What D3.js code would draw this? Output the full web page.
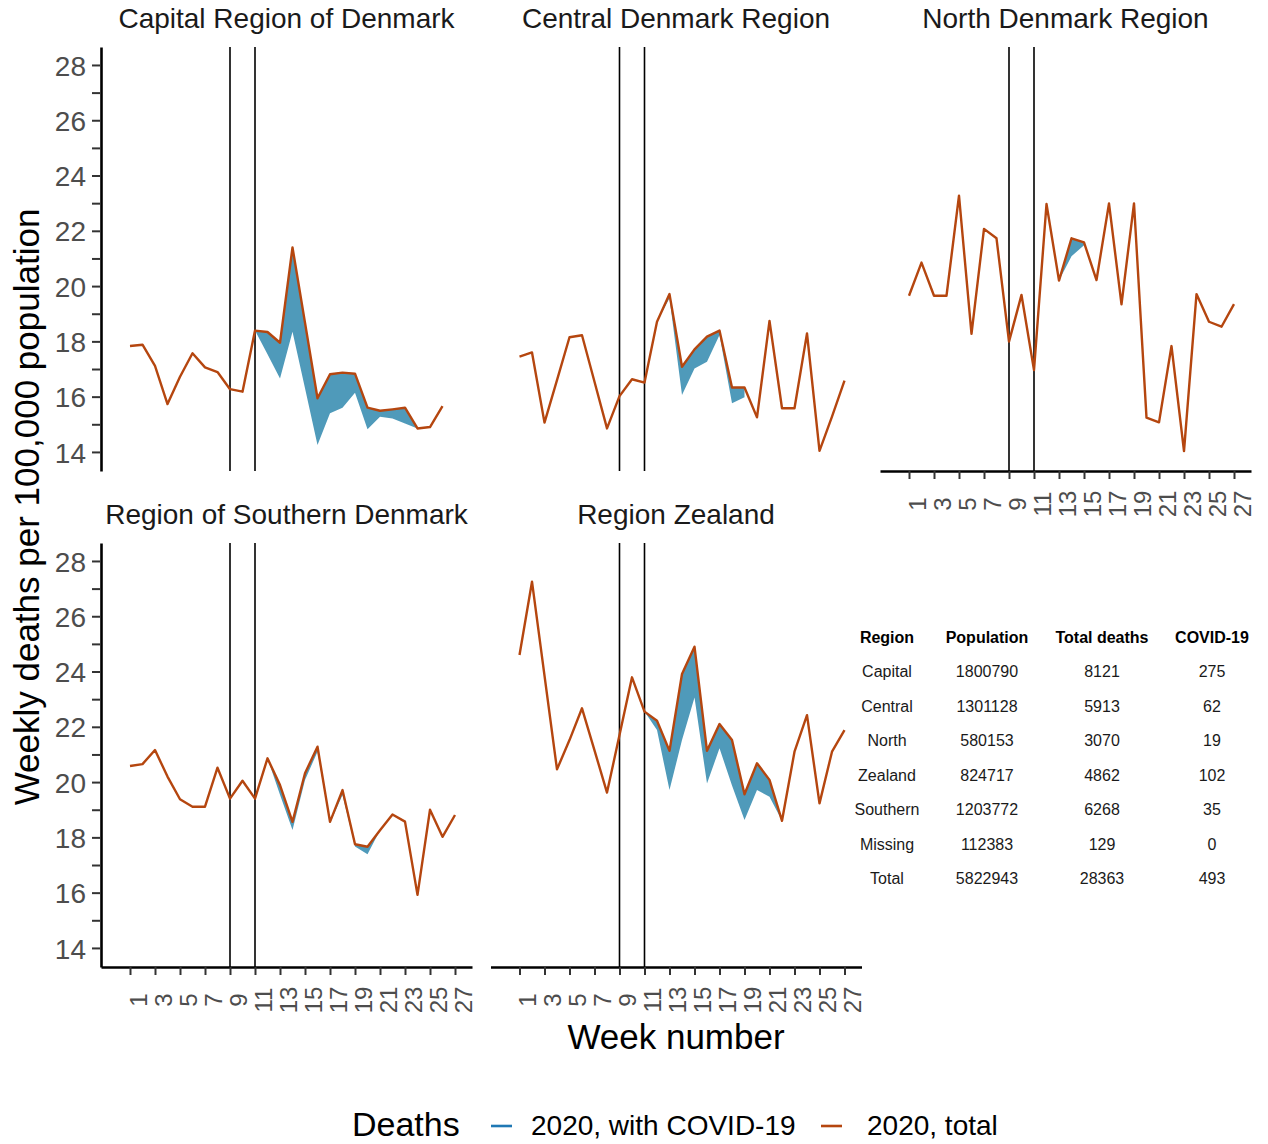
<!DOCTYPE html>
<html>
<head>
<meta charset="utf-8">
<script src="https://cdn.jsdelivr.net/npm/d3@7"></script>
<style>
  body { margin: 0; background: #fff; }
  svg { display: block; }
  text { font-family: "Liberation Sans", Arial, Helvetica, sans-serif; }
</style>
</head>
<body>
<svg id="chart" width="1268" height="1144"></svg>
<script>
// ---------------- DATA ----------------
const weeks = d3.range(1, 28);
const regionTitles = ["Capital Region of Denmark", "Central Denmark Region", "North Denmark Region",
                      "Region of Southern Denmark", "Region Zealand"];

// weekly deaths per 100,000 (total)
const capitalTotal  = [17.83, 17.88, 17.11, 15.73, 16.72, 17.57, 17.06, 16.89, 16.27, 16.18, 18.39, 18.34, 17.95, 21.40, 18.68, 15.94, 16.81, 16.87, 16.83, 15.60, 15.49, 15.54, 15.60, 14.85, 14.90, 15.66];
const centralTotal  = [17.45, 17.60, 15.06, 16.60, 18.15, 18.22, 16.54, 14.85, 16.02, 16.63, 16.51, 18.71, 19.71, 17.08, 17.71, 18.17, 18.39, 16.33, 16.33, 15.25, 18.74, 15.58, 15.58, 18.29, 14.04, 15.28, 16.58];
const northTotal    = [19.65, 20.85, 19.65, 19.65, 23.27, 18.27, 22.07, 21.73, 17.99, 19.68, 16.96, 22.97, 20.20, 21.73, 21.58, 20.22, 22.99, 19.34, 22.99, 15.24, 15.07, 17.83, 14.03, 19.71, 18.71, 18.53, 19.35];
const southernTotal = [20.58, 20.65, 21.16, 20.20, 19.38, 19.11, 19.11, 20.52, 19.40, 20.05, 19.40, 20.86, 19.89, 18.56, 20.32, 21.28, 18.56, 19.71, 17.75, 17.66, 18.26, 18.83, 18.57, 15.92, 19.00, 18.02, 18.81];
const zealandTotal  = [24.60, 27.25, 23.85, 20.46, 21.52, 22.67, 21.15, 19.62, 21.70, 23.79, 22.55, 22.22, 21.13, 23.91, 24.90, 21.13, 22.10, 21.52, 19.56, 20.68, 20.08, 18.60, 21.10, 22.42, 19.23, 21.10, 21.88];

// weekly deaths with COVID-19 per 100,000 (null = not reported)
const capitalCovid  = [null, null, null, null, null, null, null, null, null, null, 0, 0.81, 1.29, 3.05, 2.38, 1.69, 1.41, 1.27, 0.69, 0.78, 0.22, 0.33, 0.57, 0, null, null];
const centralCovid  = [null, null, null, null, null, null, null, null, null, null, null, 0, 0.15, 1.02, 0.69, 0.91, 0.16, 0.57, 0.35, null, null, null, null, null, null, null, null];
const northCovid    = [null, null, null, null, null, null, null, null, null, null, null, null, 0, 0.65, 0.10, null, null, null, null, null, null, null, null, null, null, null, null];
const southernCovid = [null, null, null, null, null, null, null, null, null, null, null, 0, 0.35, 0.29, 0.24, 0.18, 0.05, 0.18, 0.08, 0.27, 0, null, null, null, null, null, null];
const zealandCovid  = [null, null, null, null, null, null, null, null, null, null, 0, 0.34, 1.42, 2.39, 1.84, 1.18, 0.88, 1.64, 0.93, 0.97, 0.61, 0, null, null, null, null, null];

const totals = [capitalTotal, centralTotal, northTotal, southernTotal, zealandTotal];
const covids = [capitalCovid, centralCovid, northCovid, southernCovid, zealandCovid];

const yTickValues = d3.range(14, 29);
const yTickLabels = ["14", "", "16", "", "18", "", "20", "", "22", "", "24", "", "26", "", "28"];
const xTickValues = [1, 3, 5, 7, 9, 11, 13, 15, 17, 19, 21, 23, 25, 27];
const markerWeeks = [9, 11];

const legendTitle = "Deaths";
const legendLabels = ["2020, with COVID-19", "2020, total"];

const tableHeader = ["Region", "Population", "Total deaths", "COVID-19"];
const tableRegion = ["Capital", "Central", "North", "Zealand", "Southern", "Missing", "Total"];
const tablePopulation = ["1800790", "1301128", "580153", "824717", "1203772", "112383", "5822943"];
const tableDeaths = ["8121", "5913", "3070", "4862", "6268", "129", "28363"];
const tableCovid = ["275", "62", "19", "102", "35", "0", "493"];

// ---------------- STYLE / LAYOUT ----------------
const colTotal = "#B5460F";
const colCovidFill = "#4F9ABA";
const colCovidKey = "#1F78B4";
const panelW = 371, panelH = 424;
const colLeft = [101, 490.5, 880];
const rowTop = [47, 543];
const panelPos = [[0, 0], [0, 1], [0, 2], [1, 0], [1, 1]]; // [row, col]

const svg = d3.select("#chart");

panelPos.forEach(([r, c], i) => {
  const left = colLeft[c], top = rowTop[r];
  const x = d3.scaleLinear().domain([-1.32, 28.36]).range([left, left + panelW]);
  const y = d3.scaleLinear().domain([13.31, 28.65]).range([top + panelH, top]);
  const g = svg.append("g");

  const data = totals[i].map((t, k) => ({ week: weeks[k], total: t, covid: covids[i][k] }));

  // title
  g.append("text")
    .attr("x", left + panelW / 2).attr("y", top - 19)
    .attr("text-anchor", "middle").attr("font-size", 28).attr("fill", "#1A1A1A")
    .text(regionTitles[i]);

  // covid ribbon
  const area = d3.area()
    .defined(d => d.covid !== null && d.covid !== undefined)
    .x(d => x(d.week)).y0(d => y(d.total - d.covid)).y1(d => y(d.total));
  g.append("path").datum(data).attr("d", area).attr("fill", colCovidFill).attr("stroke", "none");

  // vertical marker lines
  g.selectAll("line.marker").data(markerWeeks).join("line")
    .attr("class", "marker")
    .attr("x1", d => x(d)).attr("x2", d => x(d))
    .attr("y1", top).attr("y2", top + panelH)
    .attr("stroke", "#000").attr("stroke-width", 1.6);

  // total line
  const line = d3.line().x(d => x(d.week)).y(d => y(d.total));
  g.append("path").datum(data).attr("d", line)
    .attr("fill", "none").attr("stroke", colTotal).attr("stroke-width", 2.4)
    .attr("stroke-linejoin", "round");

  // y axis on left column
  if (c === 0) {
    const ax = g.append("g").attr("transform", `translate(${left},0)`)
      .call(d3.axisLeft(y).tickValues(yTickValues).tickFormat((d, k) => yTickLabels[k])
        .tickSize(9).tickSizeOuter(0).tickPadding(6));
    ax.select(".domain").attr("stroke", "#000").attr("stroke-width", 2.6);
    ax.selectAll(".tick line").attr("stroke", "#333").attr("stroke-width", 2);
    ax.selectAll(".tick text").attr("font-size", 28).attr("fill", "#4D4D4D")
      .attr("font-family", "'Liberation Sans', Arial, sans-serif").attr("dy", "0.36em");
  }
  // x axis on bottom panels
  if (r === 1 || i === 2) {
    const ax = g.append("g").attr("transform", `translate(0,${top + panelH})`)
      .call(d3.axisBottom(x).tickValues(xTickValues).tickFormat(d3.format("d"))
        .tickSize(8).tickSizeOuter(0));
    ax.select(".domain").attr("stroke", "#000").attr("stroke-width", 2.6);
    ax.selectAll(".tick line").attr("stroke", "#333").attr("stroke-width", 2);
    ax.selectAll(".tick text")
      .attr("x", 0).attr("y", 0).attr("dy", null)
      .attr("text-anchor", "middle")
      .attr("transform", "translate(16,33) rotate(-90)")
      .attr("font-size", 24).attr("fill", "#4D4D4D")
      .attr("font-family", "'Liberation Sans', Arial, sans-serif");
  }
});

// axis titles
svg.append("text")
  .attr("transform", "translate(39,507) rotate(-90)")
  .attr("text-anchor", "middle").attr("font-size", 35).attr("fill", "#000")
  .text("Weekly deaths per 100,000 population");
svg.append("text")
  .attr("x", 676).attr("y", 1049)
  .attr("text-anchor", "middle").attr("font-size", 35).attr("fill", "#000")
  .text("Week number");

// legend
const lg = svg.append("g");
lg.append("text").attr("x", 352).attr("y", 1136).attr("font-size", 34).attr("fill", "#000").text(legendTitle);
const keyX = [491, 821], labelX = [531, 867], keyCols = [colCovidKey, colTotal];
legendLabels.forEach((lab, k) => {
  lg.append("line").attr("x1", keyX[k]).attr("x2", keyX[k] + 21)
    .attr("y1", 1126).attr("y2", 1126).attr("stroke", keyCols[k]).attr("stroke-width", 2.6);
  lg.append("text").attr("x", labelX[k]).attr("y", 1135).attr("font-size", 28).attr("fill", "#000").text(lab);
});

// table
const tcols = [887, 987, 1102, 1212];
const tRowY = 637, tRowStep = 34.5;
const tg = svg.append("g").attr("font-size", 16).attr("fill", "#000").attr("text-anchor", "middle");
tableHeader.forEach((h, k) => {
  tg.append("text").attr("x", tcols[k]).attr("y", tRowY).attr("dy", "0.36em")
    .attr("font-weight", "bold").text(h);
});
const tableCols = [tableRegion, tablePopulation, tableDeaths, tableCovid];
tableRegion.forEach((_, rIdx) => {
  tableCols.forEach((col, k) => {
    tg.append("text").attr("x", tcols[k]).attr("y", tRowY + (rIdx + 1) * tRowStep).attr("dy", "0.36em")
      .attr("fill", "#1A1A1A").text(col[rIdx]);
  });
});
</script>
</body>
</html>
